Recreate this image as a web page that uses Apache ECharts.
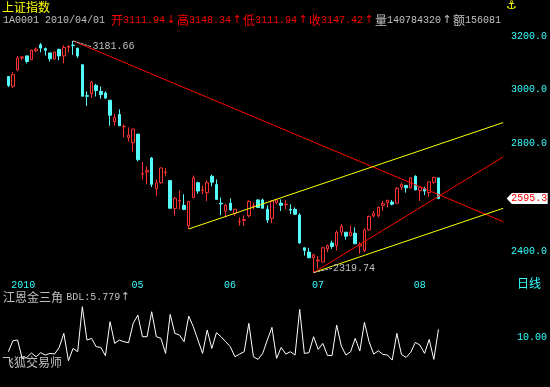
<!DOCTYPE html>
<html><head><meta charset="utf-8">
<script src="https://cdn.jsdelivr.net/npm/echarts@6/dist/echarts.min.js"></script>
<style>html,body{margin:0;padding:0;background:#000}#c{width:550px;height:387px}</style>
</head><body><div id="c"></div><script>
// ---- data ----
const categories = [
'2010-03-25','2010-03-26','2010-03-29','2010-03-30','2010-03-31',
'2010-04-01','2010-04-02','2010-04-06','2010-04-07','2010-04-08','2010-04-09','2010-04-12','2010-04-13','2010-04-14','2010-04-15','2010-04-16','2010-04-19','2010-04-20','2010-04-21','2010-04-22','2010-04-23','2010-04-26','2010-04-27','2010-04-28','2010-04-29','2010-04-30',
'2010-05-04','2010-05-05','2010-05-06','2010-05-07','2010-05-10','2010-05-11','2010-05-12','2010-05-13','2010-05-14','2010-05-17','2010-05-18','2010-05-19','2010-05-20','2010-05-21','2010-05-24','2010-05-25','2010-05-26','2010-05-27','2010-05-28','2010-05-31',
'2010-06-01','2010-06-02','2010-06-03','2010-06-04','2010-06-07','2010-06-08','2010-06-09','2010-06-10','2010-06-11','2010-06-17','2010-06-18','2010-06-21','2010-06-22','2010-06-23','2010-06-24','2010-06-25','2010-06-28','2010-06-29','2010-06-30',
'2010-07-01','2010-07-02','2010-07-05','2010-07-06','2010-07-07','2010-07-08','2010-07-09','2010-07-12','2010-07-13','2010-07-14','2010-07-15','2010-07-16','2010-07-19','2010-07-20','2010-07-21','2010-07-22','2010-07-23','2010-07-26','2010-07-27','2010-07-28','2010-07-29','2010-07-30',
'2010-08-02','2010-08-03','2010-08-04','2010-08-05','2010-08-06','2010-08-09','2010-08-10',
'2010-08-11','2010-08-12','2010-08-13','2010-08-16','2010-08-17','2010-08-18','2010-08-19','2010-08-20','2010-08-23','2010-08-24','2010-08-25','2010-08-26','2010-08-27','2010-08-30'
];
const openVals = [3049,3013,3074,3118,3126,3111.94,3145,3167,3153,3137,
3114,3150,3126,3158,3166,3155,3093,2978,2985,3016,
2994,2988,2961,2881,2908,2862,2822,2803,2835,2686,
2694,2746,2632,2654,2692,2662,2558,2586,2570,2494,
2599,2654,2625,2617,2678,2647,2578,2549,2578,2540,
2508,2514,2531,2567,2590,2590,2555,2521,2580,2578,
2572,2555,2555,2534,2412,2396,2375,2363,2359,2408,
2430,2420,2470,2470,2457,2466,2418,2402,2479,2531,
2531,2570,2580,2582,2578,2638,2644,2635,2678,2625,
2632,2617,2656,2672];
const closeVals = [3016,3056,3118,3122,3105,3147.42,3151,3155,3147,3115,
3140,3126,3157,3161,3164,3126,2976,2976,3028,2997,
2982,2969,2905,2897,2866,2864,2831,2854,2740,2688,
2699,2648,2654,2709,2694,2559,2596,2588,2555,2584,
2672,2623,2627,2654,2656,2592,2575,2570,2553,2555,
2510,2517,2584,2569,2562,2559,2515,2586,2590,2570,
2574,2552,2537,2430,2402,2375,2386,2366,2412,2420,
2417,2470,2492,2455,2470,2427,2424,2478,2529,2540,
2562,2576,2589,2574,2633,2648,2635,2672,2627,2638,
2623,2657,2674,2595.3];
const lowVals = [3010,3007,3069,3110,3098,3111.94,3139,3139,3127,3105,
3113,3110,3098,3139,3130,3118,2976,2940,2969,2975,
2967,2967,2866,2866,2866,2823,2807,2770,2733,2666,
2648,2638,2604,2651,2678,2559,2531,2555,2552,2481.97,
2596,2613,2611,2586,2641,2592,2533,2525,2549,2531,
2494,2494,2525,2555,2562,2559,2504,2504,2574,2549,
2555,2537,2535,2427,2383,2375,2319.74,2334,2359,2396,
2408,2402,2457,2442,2455,2427,2390,2396,2475,2525,
2525,2549,2562,2570,2576,2627,2617,2633,2627,2586,
2608,2602,2650,2593];
const highVals = [3051,3065,3126,3126,3127,3148.34,3157,3174,3157,3137,
3142,3153,3166,3166,3181.66,3155,3093,2994,3032,3022,
3012,2994,2961,2912,2927,2871,2860,2854,2835,2731,
2715,2750,2666,2711,2709,2662,2601,2625,2611,2584,
2681,2658,2644,2663,2684,2666,2599,2574,2596,2555,
2525,2533,2589,2580,2592,2595,2570,2590,2592,2592,
2589,2574,2562,2541,2412,2412,2390,2381,2415,2424,
2439,2476,2500,2470,2494,2488,2433,2484,2531,2549,
2565,2586,2590,2590,2638,2654,2644,2674,2682,2641,
2639,2657,2676,2672];
// 江恩金三角 BDL indicator
const bdlVals = [6.13,9.03,9.21,4.37,4.6,5.779,4.81,5.87,5.25,5.69,
5.51,7.27,10.97,3.75,7.01,6.13,18.00,9.21,9.65,7.45,
7.27,5.07,14.05,8.33,9.21,8.77,8.50,13.61,15.80,10.09,
10.09,16.68,10.09,9.65,5.69,15.98,10.97,10.53,8.77,15.54,
12.73,9.21,5.69,11.85,7.01,11.14,10.09,8.77,7.45,4.81,
5.51,6.13,13.61,4.81,4.11,5.69,9.21,12.55,4.37,7.27,
5.51,6.13,5.25,17.30,5.69,5.87,10.09,6.75,8.33,5.16,
5.16,13.17,7.63,5.25,6.13,9.65,6.31,13.87,8.77,5.51,
6.39,5.43,5.25,3.93,10.97,5.43,4.63,5.96,8.59,7.89,
5.69,9.38,4.11,12.02];
const yTickValues = [2400, 2800, 3000, 3200];
const subTickValues = [10];
const xTickDates = ['2010-03-25','2010-05-04','2010-06-01','2010-07-01','2010-08-02'];
const xTickLabels = ['2010','05','06','07','08'];
// trend lines: [name, fromDate, fromValue, toDate, toValue]
const trendNames = ['down','chanUpper','chanLower','up'];
const trendFromDate = ['2010-04-15','2010-05-21','2010-07-02','2010-07-02'];
const trendFromVal = [3181.66, 2481.97, 2319.74, 2319.74];
const trendToDate = ['2010-08-30','2010-08-30','2010-08-30','2010-08-30'];
const trendToVal = [2509, 2878, 2559, 2750];
const trendColors = ['#ff0000','#ffff00','#ffff00','#ff0000'];
// extreme annotations
const annFromDate = ['2010-04-15','2010-07-02'];
const annFromVal = [3181.66, 2319.74];
const annToDate = ['2010-04-21','2010-07-08'];
const annToVal = [3160, 2335.6];
const header = {code:'1A0001', date:'2010/04/01', idx:5, vol:'140784320', amt:'156081'};

// ---- chart ----
const MONO = "'Liberation Mono','DejaVu Sans Mono',monospace";
const CJK = "'Noto Sans CJK SC',sans-serif";
const CYAN = '#33ffff', RED = '#ff3232', GRAY = '#c0c0c0';
const chart = echarts.init(document.getElementById('c'), null, {renderer:'canvas'});

const candleData = openVals.map((o,i)=>[o, closeVals[i], lowVals[i], highVals[i]]);
const hi = header.idx;
const f2 = v => v.toFixed(2);
const hdrText = `{g|${header.code} ${header.date} }{rc|开}{rn|${f2(openVals[hi])}}{ra|↓}{rc|高}{rn|${f2(highVals[hi])}}{ra|↑}{rc|低}{rn|${f2(lowVals[hi])}}{ra|↑}{rc|收}{rn|${f2(closeVals[hi])}}{ra|↑}{gc|量}{g|${header.vol}}{ga|↑}{gc|额}{g|${header.amt}}`;

const series = [{
  type:'candlestick', xAxisIndex:0, yAxisIndex:0, data:candleData, barWidth:3,
  itemStyle:{color:'#000', color0:'#54fcfc', borderColor:RED, borderColor0:'#54fcfc', borderWidth:1},
  markPoint:{
    symbol:'path://M0,5L5,0L40,0L40,10L5,10Z', symbolSize:[41,11], symbolOffset:[24,0],
    itemStyle:{color:'#ffffff'},
    label:{show:true, position:'inside', offset:[2,0], color:'#ff0000', fontFamily:MONO, fontSize:10,
      formatter:()=>closeVals[closeVals.length-1].toFixed(1)},
    data:[{coord:[categories[categories.length-1], closeVals[closeVals.length-1]]}]
  }
}];
trendNames.forEach((n,i)=>{
  series.push({type:'line', name:n, xAxisIndex:0, yAxisIndex:0, symbol:'none', silent:true,
    lineStyle:{color:trendColors[i], width:1},
    data:[[trendFromDate[i], trendFromVal[i]],[trendToDate[i], trendToVal[i]]]});
});
annFromDate.forEach((d,i)=>{
  series.push({type:'line', xAxisIndex:0, yAxisIndex:0, symbol:'none', silent:true,
    lineStyle:{color:GRAY, width:1, type:[3,1]},
    endLabel:{show:true, distance:1, color:GRAY, fontFamily:MONO, fontSize:10, formatter:()=>annFromVal[i].toFixed(2)},
    data:[[d, annFromVal[i]],[annToDate[i], annToVal[i]]]});
});
series.push({type:'line', xAxisIndex:1, yAxisIndex:1, symbol:'none', silent:true,
  lineStyle:{color:'#ffffff', width:1}, data:bdlVals});

chart.setOption({
  backgroundColor:'#000', animation:false,
  grid:[{left:6, right:44.5, top:20, bottom:111},{left:6, right:44.5, top:296, bottom:12}],
  xAxis:[{type:'category', gridIndex:0, data:categories, boundaryGap:true,
      axisLine:{show:false}, axisTick:{show:false}, splitLine:{show:false},
      axisLabel:{color:CYAN, fontFamily:MONO, fontSize:10, margin:4, align:'left', padding:[0,0,0,3],
        interval:(idx,val)=>xTickDates.indexOf(val)>=0,
        formatter:(val)=>xTickLabels[xTickDates.indexOf(val)] }},
    {type:'category', gridIndex:1, data:categories, boundaryGap:true, show:false}],
  yAxis:[{type:'value', gridIndex:0, position:'right', min:2307, max:3259.5,
      axisLine:{show:false}, axisTick:{show:false}, splitLine:{show:false},
      axisLabel:{color:CYAN, fontFamily:MONO, fontSize:10, align:'right', margin:41.5,
        customValues:yTickValues, formatter:v=>v.toFixed(1)}},
    {type:'value', gridIndex:1, position:'right', min:0, max:20.82,
      axisLine:{show:false}, axisTick:{show:false}, splitLine:{show:false},
      axisLabel:{color:CYAN, fontFamily:MONO, fontSize:10, align:'right', margin:41.5,
        customValues:subTickValues, formatter:v=>v.toFixed(2)}}],
  series:series,
  graphic:[
    {type:'text', left:2, top:1, style:{text:'上证指数', fill:'#ffff00', font:`12px ${CJK}`}},
    {type:'text', left:3, top:14, style:{text:hdrText, rich:{
      g:{fill:GRAY, fontFamily:MONO, fontSize:10},
      gc:{fill:GRAY, fontFamily:CJK, fontSize:12},
      ga:{fill:GRAY, fontFamily:"'DejaVu Sans'", fontSize:11, width:12, align:'center'},
      rc:{fill:'#ff0000', fontFamily:CJK, fontSize:12},
      rn:{fill:'#ff0000', fontFamily:MONO, fontSize:10},
      ra:{fill:'#ff0000', fontFamily:"'DejaVu Sans'", fontSize:11, width:12, align:'center'}}}},
    {type:'text', left:506, top:0, style:{text:'⚓', fill:'#ffff00', font:`bold 12px 'DejaVu Sans'`}},
    {type:'text', left:517, top:277, style:{text:'日线', fill:CYAN, font:`12px ${CJK}`}},
    {type:'text', left:3, top:291, style:{text:`{c|江恩金三角} {n|BDL:${bdlVals[hi].toFixed(3)}}{a|↑}`, rich:{
      c:{fill:GRAY, fontFamily:CJK, fontSize:12},
      n:{fill:GRAY, fontFamily:MONO, fontSize:10},
      a:{fill:GRAY, fontFamily:"'DejaVu Sans'", fontSize:11, width:10, align:'center'}}}},
    {type:'text', left:2, top:356, style:{text:'飞狐交易师', fill:GRAY, font:`12px ${CJK}`}}
  ]
});
</script></body></html>
